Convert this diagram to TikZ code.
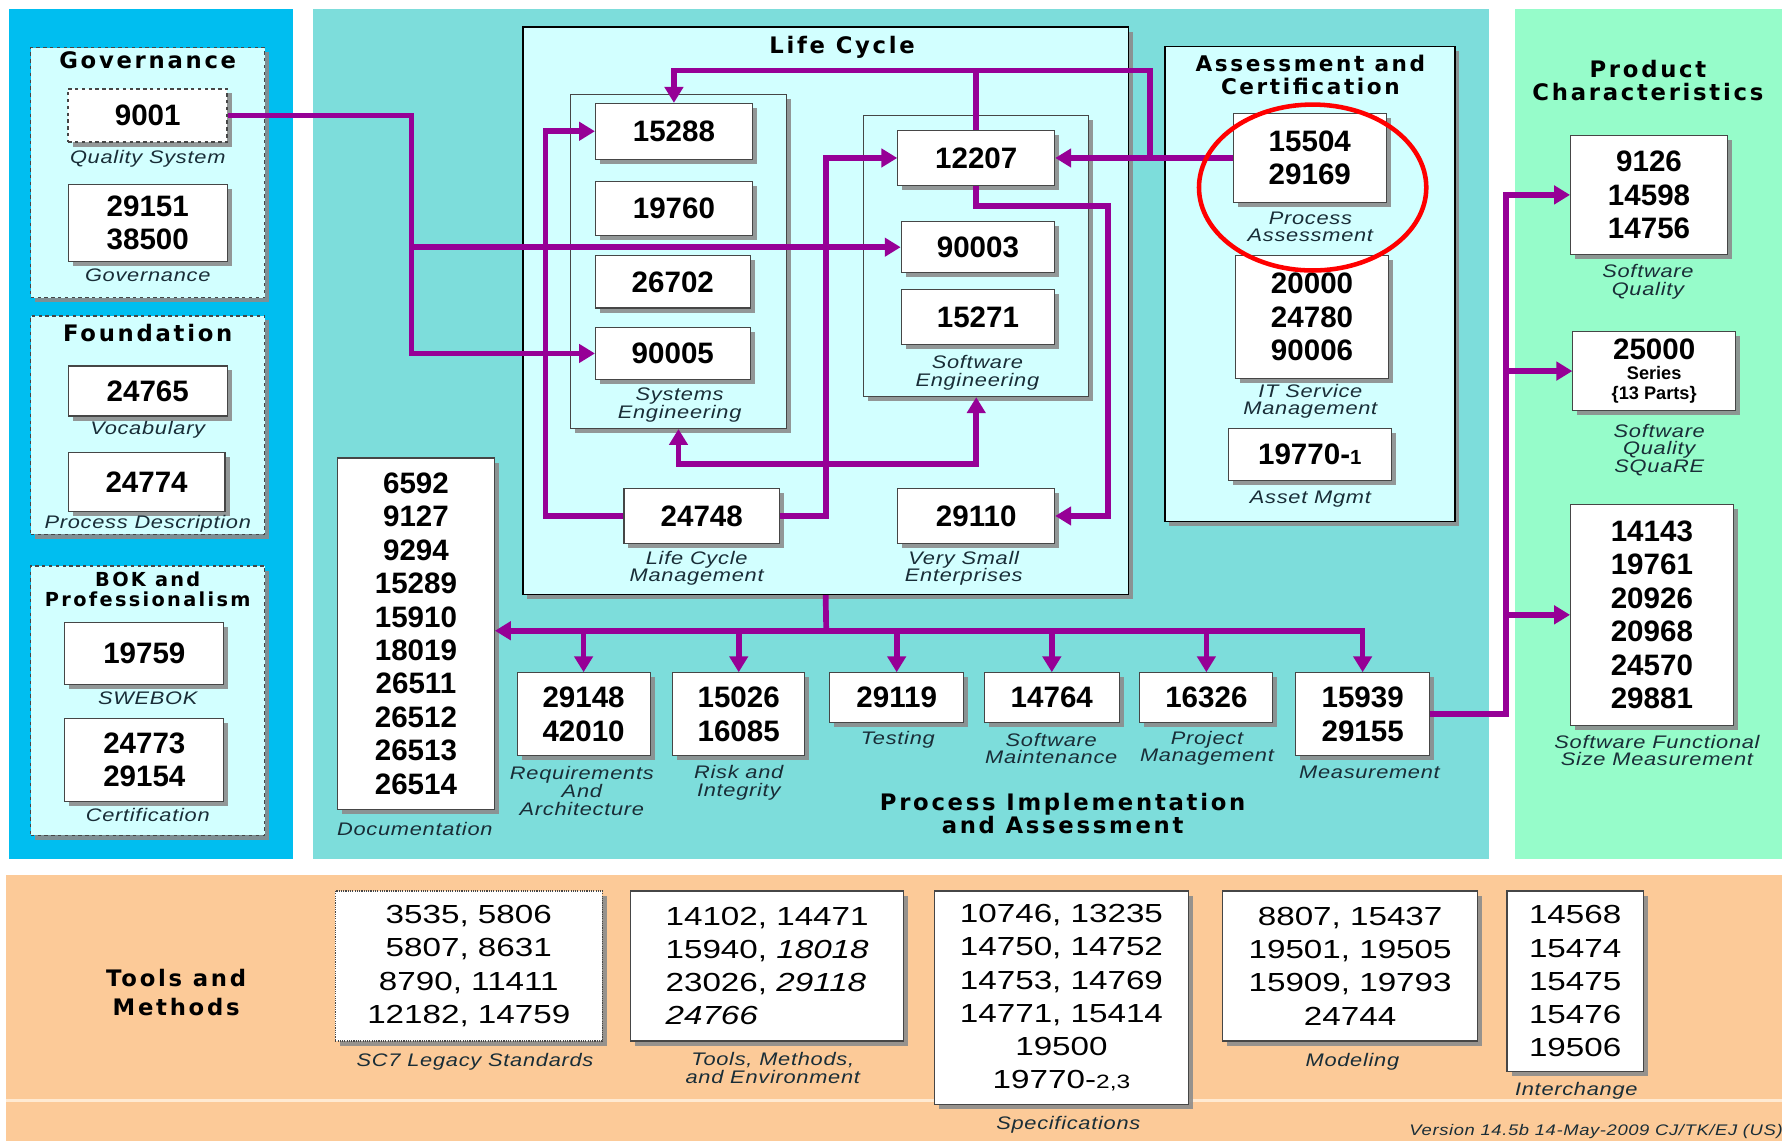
\documentclass[tikz,border=0pt]{standalone}
\usepackage{fontspec}
\setmainfont{Liberation Sans}
\newfontfamily\titlefont{DejaVu Sans}[LetterSpace=12]
\newfontfamily\labelfont{Liberation Sans}[FakeStretch=1.2,LetterSpace=4]
\newfontfamily\bandfont{Liberation Sans}[FakeStretch=1.27]
\usepackage{tikz}
\usetikzlibrary{arrows.meta,shadows}

\definecolor{skypanel}{RGB}{0,190,240}
\definecolor{tealpanel}{RGB}{125,221,219}
\definecolor{mintpanel}{RGB}{150,252,202}
\definecolor{peachband}{RGB}{252,202,152}
\definecolor{paleband}{RGB}{255,234,210}
\definecolor{icecyan}{RGB}{210,255,255}
\definecolor{flowpurple}{RGB}{150,0,150}
\definecolor{boxline}{RGB}{70,70,70}
\definecolor{shade}{RGB}{140,140,140}
\definecolor{labelink}{RGB}{25,45,55}

\begin{document}
\begin{tikzpicture}[x=1pt,y=-1pt,
    numbox/.style={draw=boxline, fill=white, line width=1pt, inner sep=0pt, align=center,
      font={\fontsize{26}{29.4}\selectfont\bfseries},
      drop shadow={shadow xshift=4pt, shadow yshift=-4pt, fill=shade, opacity=0.9}},
    bandbox/.style={numbox, font={\bandfont\fontsize{23}{29.3}\selectfont}},
    groupbox/.style={draw=boxline, fill=icecyan, line width=1pt, inner sep=0pt,
      drop shadow={shadow xshift=4pt, shadow yshift=-4pt, fill=shade, opacity=0.9}},
    dashgroup/.style={groupbox, dashed},
    lbl/.style={font={\labelfont\itshape\fontsize{16}{15.5}\selectfont}, text=labelink, align=center, inner sep=0pt},
    ttl/.style={font={\titlefont\bfseries\fontsize{20}{20}\selectfont}, align=center, inner sep=0pt},
    conn/.style={draw=flowpurple, line width=5pt, -{Triangle[length=14pt,width=16pt]}},
    dconn/.style={draw=flowpurple, line width=5pt, {Triangle[length=14pt,width=16pt]}-{Triangle[length=14pt,width=16pt]}},
    wire/.style={draw=flowpurple, line width=5pt}]
  \useasboundingbox (0,0) rectangle (1568,1004);
  \fill[white] (0,0) rectangle (1568,1004);

  % Background panels
  \fill[skypanel] (8,8) rectangle (258,756);
  \fill[tealpanel] (275,8) rectangle (1310,756);
  \fill[mintpanel] (1333,8) rectangle (1568,756);
  \fill[peachband] (5,770) rectangle (1568,1004);
  \fill[paleband] (5,967) rectangle (1568,970);

  % Left panel: governance, foundation, BOK
  \node[dashgroup, minimum width=206, minimum height=220] (govbox) at (130,152) {};
  \node[ttl] (tgov) at (130,53) {Governance};
  \node[numbox, dashed, line width=1.6pt, minimum width=140, minimum height=47] (n9001) at (130,101.5) {9001};
  \node[lbl] (l9001) at (130,140) {Quality System};
  \node[numbox, minimum width=140, minimum height=68] (n29151) at (130,196) {29151\\38500};
  \node[lbl] (l29151) at (130,242) {Governance};

  \node[dashgroup, minimum width=206, minimum height=192] (fndbox) at (130,374) {};
  \node[ttl] (tfnd) at (130,293) {Foundation};
  \node[numbox, minimum width=140, minimum height=44] (n24765) at (130,344) {24765};
  \node[lbl] (l24765) at (130,378) {Vocabulary};
  \node[numbox, minimum width=138, minimum height=52] (n24774) at (129,424) {24774};
  \node[lbl] (l24774) at (130,461) {Process Description};

  \node[dashgroup, minimum width=206, minimum height=237] (bokbox) at (130,616.5) {};
  \node[ttl, font={\titlefont\bfseries\fontsize{17}{17}\selectfont}] (tbok) at (130,518.5) {BOK and\\Professionalism};
  \node[numbox, minimum width=140, minimum height=54] (n19759) at (127,575) {19759};
  \node[lbl] (l19759) at (130,614) {SWEBOK};
  \node[numbox, minimum width=140, minimum height=73] (n24773) at (127,668.5) {24773\\29154};
  \node[lbl] (l24773) at (130,717) {Certification};

  % Life cycle
  \node[groupbox, draw=black, line width=1.4pt, minimum width=533, minimum height=499] (lifecycle) at (726.5,273.5) {};
  \node[ttl] (tlife) at (741,42) {Life Cycle};
  \node[groupbox, minimum width=190, minimum height=294] (sysbox) at (597,230) {};
  \node[numbox, minimum width=138, minimum height=49] (n15288) at (593,115.5) {15288};
  \node[numbox, minimum width=138, minimum height=47] (n19760) at (593,183.5) {19760};
  \node[numbox, minimum width=136, minimum height=46] (n26702) at (592,248) {26702};
  \node[numbox, minimum width=136, minimum height=46] (n90005) at (592,311) {90005};
  \node[lbl] (lsys) at (598,356.5) {Systems\\Engineering};
  \node[groupbox, minimum width=198, minimum height=247] (swbox) at (859,225.5) {};
  \node[numbox, minimum width=138, minimum height=48] (n12207) at (859,139) {12207};
  \node[numbox, minimum width=135, minimum height=45] (n90003) at (860.5,217.5) {90003};
  \node[numbox, minimum width=135, minimum height=48] (n15271) at (860.5,279) {15271};
  \node[lbl] (lsw) at (860,328) {Software\\Engineering};
  \node[numbox, minimum width=137, minimum height=48] (n24748) at (617.5,454) {24748};
  \node[lbl] (l24748) at (613,500) {Life Cycle\\Management};
  \node[numbox, minimum width=138, minimum height=48] (n29110) at (859,454) {29110};
  \node[lbl] (l29110) at (848,500) {Very Small\\Enterprises};

  % Assessment and certification
  \node[groupbox, draw=black, line width=1.4pt, minimum width=255, minimum height=418] (acbox) at (1152.5,250) {};
  \node[ttl, font={\titlefont\bfseries\fontsize{19}{20}\selectfont}] (tac) at (1153,66) {Assessment and\\Certification};
  \node[numbox, minimum width=135, minimum height=78] (n15504) at (1152.5,139) {15504\\29169};
  \node[lbl] (l15504) at (1153,199.5) {Process\\Assessment};
  \node[numbox, minimum width=135, minimum height=108] (n20000) at (1154.5,279) {20000\\24780\\90006};
  \node[lbl] (l20000) at (1153,353) {IT Service\\Management};
  \node[numbox, minimum width=143, minimum height=46] (n19770) at (1152.5,400) {19770-{\fontsize{18}{18}\selectfont 1}};
  \node[lbl] (l19770) at (1153,439) {Asset Mgmt};

  % Documentation and process implementation row
  \node[numbox, minimum width=138, minimum height=309] (ndoc) at (366,557.5)
    {6592\\9127\\9294\\15289\\15910\\18019\\26511\\26512\\26513\\26514};
  \node[lbl] (ldoc) at (365,729) {Documentation};
  \node[numbox, minimum width=117, minimum height=73] (n29148) at (513.5,628.5) {29148\\42010};
  \node[lbl] (l29148) at (512,696) {Requirements\\And\\Architecture};
  \node[numbox, minimum width=116, minimum height=73] (n15026) at (650,628.5) {15026\\16085};
  \node[lbl] (l15026) at (650,689) {Risk and\\Integrity};
  \node[numbox, minimum width=118, minimum height=44] (n29119) at (789,614) {29119};
  \node[lbl] (l29119) at (790,651) {Testing};
  \node[numbox, minimum width=119, minimum height=44] (n14764) at (925.5,614) {14764};
  \node[lbl] (l14764) at (925,658.5) {Software\\Maintenance};
  \node[numbox, minimum width=117, minimum height=44] (n16326) at (1061.5,614) {16326};
  \node[lbl] (l16326) at (1062,658.5) {Project\\Management};
  \node[numbox, minimum width=118, minimum height=73] (n15939) at (1199,628.5) {15939\\29155};
  \node[lbl] (l15939) at (1205,680) {Measurement};
  \node[ttl] (tproc) at (935,716) {Process Implementation\\and Assessment};

  % Right panel: product characteristics
  \node[ttl] (tprod) at (1450,71) {Product\\Characteristics};
  \node[numbox, minimum width=138, minimum height=105] (n9126) at (1451,171.5) {9126\\14598\\14756};
  \node[lbl] (l9126) at (1450,248) {Software\\Quality};
  \node[numbox, minimum width=143, minimum height=69, font={\fontsize{16}{18}\selectfont\bfseries}] (n25000) at (1455.5,326.5)
    {{\fontsize{26}{18}\selectfont 25000}\\Series\\\{13 Parts\}};
  \node[lbl] (l25000) at (1460,396) {Software\\Quality\\SQuaRE};
  \node[numbox, minimum width=143, minimum height=194] (n14143) at (1453.5,541) {14143\\19761\\20926\\20968\\24570\\29881};
  \node[lbl] (l14143) at (1458,660.5) {Software Functional\\Size Measurement};

  % Tools and methods band
  \node[ttl, font={\titlefont\bfseries\fontsize{20}{25}\selectfont}] (ttools) at (155,873.5) {Tools and\\Methods};
  \node[bandbox, densely dotted, minimum width=235, minimum height=132] (nsc7) at (412.5,850)
    {3535, 5806\\5807, 8631\\8790, 11411\\12182, 14759};
  \node[lbl] (lsc7) at (418,934) {SC7 Legacy Standards};
  \node[bandbox, align=left, minimum width=240, minimum height=132] (ntools) at (675,850)
    {14102, 14471\\15940, \textit{18018}\\23026, \textit{29118}\\\textit{24766}};
  \node[lbl] (ltools) at (680,939.5) {Tools, Methods,\\and Environment};
  \node[bandbox, minimum width=224, minimum height=188] (nspec) at (934,878)
    {10746, 13235\\14750, 14752\\14753, 14769\\14771, 15414\\19500\\19770-{\fontsize{17}{17}\selectfont 2,3}};
  \node[lbl] (lspec) at (940,990) {Specifications};
  \node[bandbox, minimum width=224, minimum height=132] (nmodel) at (1188,850)
    {8807, 15437\\19501, 19505\\15909, 19793\\24744};
  \node[lbl] (lmodel) at (1190,934) {Modeling};
  \node[bandbox, minimum width=120, minimum height=159] (ninter) at (1386,863.5)
    {14568\\15474\\15475\\15476\\19506};
  \node[lbl] (linter) at (1387,960) {Interchange};
  \node[lbl, anchor=west, font={\labelfont\itshape\fontsize{13.5}{13.5}\selectfont}] (lver) at (1240,996)
    {Version 14.5b 14-May-2009 CJ/TK/EJ (US)};

  % Connectors
  \coordinate (gvturn) at (362,217.5);
  \draw[conn] (n9001.east) -| (gvturn) |- (n90005.west);
  \draw[conn] (gvturn) -- (n90003.west);

  \coordinate (lcleft) at (480,454);
  \coordinate (lcright) at (727,454);
  \draw[conn] (n24748.west) -- (lcleft) |- (n15288.west);
  \draw[conn] (n24748.east) -- (lcright) |- (n12207.west);

  \coordinate (acjoin) at (1012,139);
  \coordinate (topturn) at (1012,62);
  \draw[conn] (n15504.west) -- (n12207.east);
  \draw[conn] (acjoin) -- (topturn) -| (n15288.north);
  \draw[wire] (n12207.north) -- (n12207.north |- topturn);

  \coordinate (swturn) at (975,181);
  \draw[conn] (n12207.south) |- (swturn) |- (n29110.east);

  \coordinate (lcmid) at (597,408);
  \draw[dconn] (sysbox.south) -- (lcmid) -| (swbox.south);

  \coordinate (bus) at (727,555);
  \draw[wire] (lifecycle.south) -- (bus);
  \draw[conn] (bus) -- (bus -| ndoc.east);
  \draw[conn] (bus) -| (n15939.north);
  \foreach \n in {n29148,n15026,n29119,n14764,n16326}
    \draw[conn] (bus -| \n.north) -- (\n.north);

  \coordinate (pcturn) at (1325,541);
  \draw[conn] (n15939.east) -| (pcturn) |- (n9126.west);
  \draw[conn] (pcturn |- n25000.west) -- (n25000.west);
  \draw[conn] (pcturn) -- (n14143.west);

  % Highlight
  \draw[red, line width=4pt] (1155,165) ellipse [x radius=100, y radius=73];
\end{tikzpicture}
\end{document}
